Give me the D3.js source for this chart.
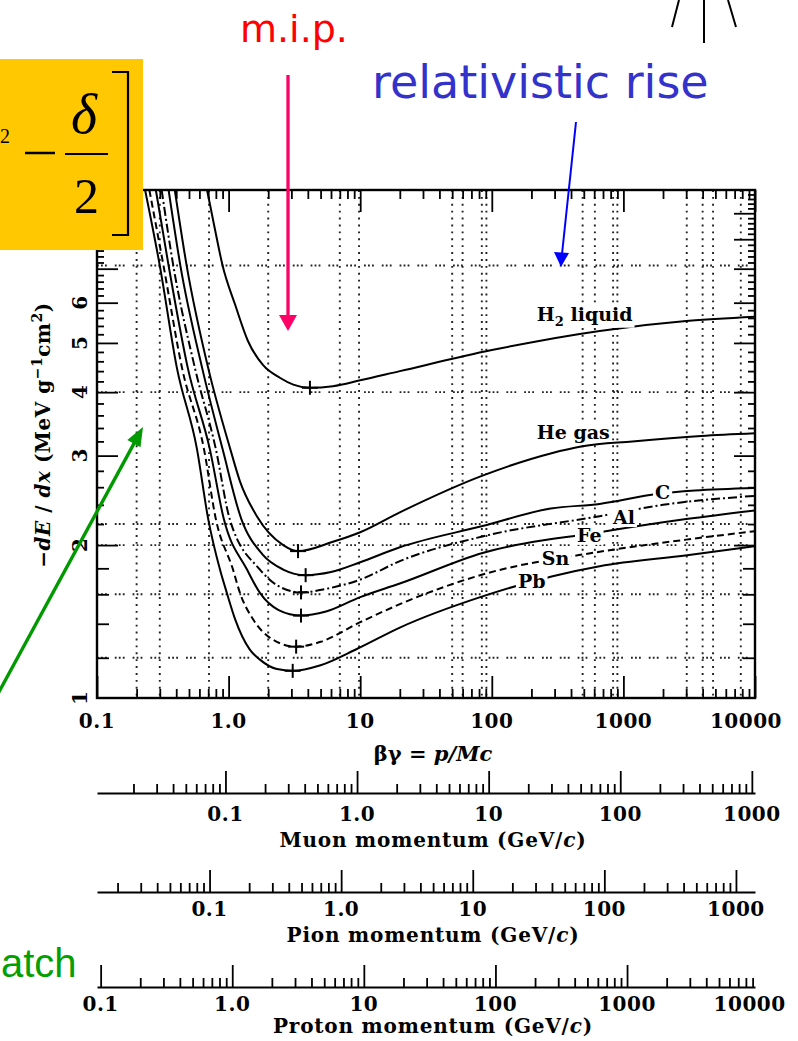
<!DOCTYPE html>
<html><head><meta charset="utf-8">
<script src="https://cdn.jsdelivr.net/npm/d3@7"></script>
<style>
body{margin:0;background:#fff;}
svg{display:block;}
text{font-family:"DejaVu Serif",serif;fill:#000;}
</style>
</head><body>
<svg id="chart" width="798" height="1041"></svg>
<script>
// ---------------- data (βγ, -dE/dx in MeV g^-1 cm^2) ----------------
const seriesNames = ["H2 liquid", "He gas", "C", "Al", "Fe", "Sn", "Pb"];
const h2Liquid = [[0.686,10],[0.8,8.2],[0.9,7.1],[1.12,5.95],[1.40,5.05],[1.83,4.52],[2.45,4.27],[3.1,4.14],[4.15,4.08],[6.2,4.11],[10,4.22],[20,4.40],[100,4.84],[660,5.28],[3000,5.52],[10000,5.63]];
const heGas = [[0.39,10],[0.48,7.1],[0.70,4.46],[1.03,3.09],[1.22,2.67],[1.64,2.28],[2.6,2.0],[3.37,1.946],[6.2,2.03],[10,2.12],[20,2.32],[85,2.74],[280,3.03],[490,3.13],[1170,3.2],[3900,3.28],[10000,3.32]];
const carbon = [[0.35,10],[0.43,7.1],[0.63,4.46],[0.9,3.09],[1.25,2.25],[1.8,1.92],[2.6,1.79],[3.85,1.745],[6,1.77],[10,1.85],[20,1.98],[85,2.18],[280,2.36],[660,2.41],[1800,2.52],[3500,2.56],[10000,2.59]];
const aluminium = [[0.31,10],[0.38,7.1],[0.555,4.46],[0.8,3.09],[1.02,2.25],[1.73,1.79],[2.4,1.66],[3.55,1.614],[5.5,1.64],[10,1.71],[20,1.86],[85,2.08],[660,2.28],[2000,2.40],[10000,2.50]];
const iron = [[0.28,10],[0.35,7.1],[0.49,4.46],[0.72,3.09],[0.92,2.25],[1.38,1.79],[1.73,1.61],[2.4,1.49],[3.55,1.453],[5.5,1.48],[10,1.58],[20,1.68],[85,1.93],[660,2.12],[3000,2.25],[10000,2.34]];
const tin = [[0.25,10],[0.32,7.1],[0.443,4.46],[0.65,3.09],[0.8,2.25],[1.08,1.79],[1.22,1.61],[1.53,1.43],[2.2,1.3],[3.26,1.262],[5,1.29],[10,1.41],[20,1.53],[85,1.75],[660,1.94],[3000,2.05],[10000,2.13]];
const lead = [[0.232,10],[0.30,7.1],[0.405,4.46],[0.575,3.09],[0.70,2.25],[0.86,1.79],[0.97,1.61],[1.12,1.43],[1.45,1.245],[1.73,1.19],[2.33,1.14],[3.07,1.131],[5,1.16],[9.5,1.25],[20,1.376],[85,1.585],[290,1.737],[660,1.817],[3050,1.91],[10000,1.99]];
const minima = [[4.15,4.08],[3.37,1.946],[3.85,1.745],[3.55,1.614],[3.55,1.453],[3.26,1.262],[3.07,1.131]];
const labelAnchors = [[220,5.53],[220,3.24],[1740,2.47],[834,2.20],[444,2.03],[240,1.83],[158,1.65]];

const xTickValues = [0.1, 1, 10, 100, 1000, 10000];
const xTickLabels = ["0.1", "1.0", "10", "100", "1000", "10000"];
const yTickValues = [1, 2, 3, 4, 5, 6];
const yTickLabels = ["1", "2", "3", "4", "5", "6"];
const gridY = [1.2, 1.6, 2.0, 2.2, 4, 7.1];
const gridX = [0.2, 0.3, 0.71, 2, 7, 9.8, 50, 60, 84, 91, 490, 607, 835, 900, 3030, 4000, 4800, 7800];

const particleNames = ["Muon", "Pion", "Proton"];
const particleMasses = [0.10566, 0.13957, 0.93827]; // GeV/c^2
const muonTickValues = [0.1, 1, 10, 100, 1000];
const muonTickLabels = ["0.1", "1.0", "10", "100", "1000"];
const pionTickValues = [0.1, 1, 10, 100, 1000];
const pionTickLabels = ["0.1", "1.0", "10", "100", "1000"];
const protonTickValues = [0.1, 1, 10, 100, 1000, 10000];
const protonTickLabels = ["0.1", "1.0", "10", "100", "1000", "10000"];

// ---------------- styles ----------------
const seriesData = [h2Liquid, heGas, carbon, aluminium, iron, tin, lead];
const seriesDash = [null, null, null, "9,3,2,3", null, "7,4", null];

const svg = d3.select("#chart");
const L = 97, R = 755, T = 190, B = 698;
const x = d3.scaleLog().domain([0.1, 10000]).range([L, R]);
const y = d3.scaleLog().domain([1, 10]).range([B, T]);

svg.append("defs").append("clipPath").attr("id", "clip")
  .append("rect").attr("x", L).attr("y", T).attr("width", R - L).attr("height", B - T);

// grid
const grid = svg.append("g").attr("clip-path", "url(#clip)");
grid.selectAll("line.gy").data(gridY).join("line").attr("class", "gy")
  .attr("x1", L).attr("x2", R).attr("y1", d => y(d)).attr("y2", d => y(d))
  .attr("stroke", "#222").attr("stroke-width", 1.9)
  .attr("stroke-dasharray", "1.8,2.2,1.8,2.2,1.8,8");
grid.selectAll("line.gx").data(gridX).join("line").attr("class", "gx")
  .attr("x1", d => x(d)).attr("x2", d => x(d)).attr("y1", T).attr("y2", B)
  .attr("stroke", "#222").attr("stroke-width", 1.9)
  .attr("stroke-dasharray", "1.9,5");

// curves
const line = d3.line().x(d => x(d[0])).y(d => y(d[1])).curve(d3.curveMonotoneX);
const curves = svg.append("g").attr("clip-path", "url(#clip)");
curves.selectAll("path").data(seriesData).join("path")
  .attr("d", line).attr("fill", "none").attr("stroke", "#000")
  .attr("stroke-width", 2)
  .attr("stroke-dasharray", (d, i) => seriesDash[i]);

// minimum markers
const mk = svg.append("g").attr("stroke", "#000").attr("stroke-width", 2);
minima.forEach(m => {
  mk.append("line").attr("x1", x(m[0])).attr("x2", x(m[0])).attr("y1", y(m[1]) - 7).attr("y2", y(m[1]) + 7);
  mk.append("line").attr("x1", x(m[0]) - 8).attr("x2", x(m[0]) + 8).attr("y1", y(m[1])).attr("y2", y(m[1]));
});

// curve labels with white background
const lab = svg.append("g");
seriesNames.forEach((name, i) => {
  const g = lab.append("g");
  const t = g.append("text").attr("x", x(labelAnchors[i][0])).attr("y", y(labelAnchors[i][1]))
    .attr("font-size", 19).attr("font-weight", "bold");
  if (name === "H2 liquid") {
    t.append("tspan").text("H");
    t.append("tspan").attr("font-size", 13).attr("dy", 5).text("2");
    t.append("tspan").attr("dy", -5).text(" liquid");
  } else {
    t.text(name);
  }
  const bb = t.node().getBBox();
  g.insert("rect", "text").attr("x", bb.x - 2).attr("y", bb.y + 1).attr("width", bb.width + 4)
    .attr("height", bb.height - 2).attr("fill", "#fff");
});

// axes ticks
function decadeMinors(lo, hi) {
  const out = [];
  for (let d = 1e-3; d <= 1e5; d *= 10) {
    for (let m = 2; m <= 9; m++) { const v = +(d * m).toPrecision(6); if (v > lo && v < hi) out.push(v); }
  }
  return out;
}
function decadeMajors(lo, hi) {
  const out = [];
  for (let d = 1e-3; d <= 1e5; d *= 10) { const v = +d.toPrecision(6); if (v >= lo * 0.999 && v <= hi * 1.001) out.push(v); }
  return out;
}
const xMinor = decadeMinors(0.1, 10000), xMajor = decadeMajors(0.1, 10000);
const yInts = [2, 3, 4, 5, 6, 7, 8, 9];
const ySmall = [1.2, 1.4, 1.6, 1.8];
const yMinor = d3.range(2.2, 9.9, 0.2).map(v => +v.toFixed(1)).filter(v => Math.abs(v - Math.round(v)) > 0.01);

function addAxis(axis, tr) {
  const g = svg.append("g").attr("transform", tr).call(axis);
  g.select(".domain").remove();
  g.selectAll("line").attr("stroke", "#000").attr("stroke-width", 1.8);
  return g;
}
addAxis(d3.axisBottom(x).tickValues(xMinor).tickSize(-9).tickFormat(""), `translate(0,${B})`);
addAxis(d3.axisBottom(x).tickValues(xMajor).tickSize(-22).tickFormat(""), `translate(0,${B})`);
addAxis(d3.axisTop(x).tickValues(xMinor).tickSize(-9).tickFormat(""), `translate(0,${T})`);
addAxis(d3.axisTop(x).tickValues(xMajor).tickSize(-22).tickFormat(""), `translate(0,${T})`);
[[yInts, 21], [ySmall, 12], [yMinor, 7]].forEach(([vals, len]) => {
  addAxis(d3.axisLeft(y).tickValues(vals).tickSize(-len).tickFormat(""), `translate(${L},0)`);
  addAxis(d3.axisRight(y).tickValues(vals).tickSize(-len).tickFormat(""), `translate(${R},0)`);
});

// frame
svg.append("rect").attr("x", L).attr("y", T).attr("width", R - L).attr("height", B - T)
  .attr("fill", "none").attr("stroke", "#000").attr("stroke-width", 2.4);

// x tick labels
svg.append("g").selectAll("text").data(xTickValues).join("text")
  .attr("x", d => x(d)).attr("y", 728).attr("dx", (d, i) => xTickLabels[i] === "10000" ? -9 : 0)
  .attr("text-anchor", "middle").attr("font-size", 20).attr("font-weight", "bold").attr("letter-spacing", 0.5)
  .text((d, i) => xTickLabels[i]);

// y tick labels (rotated)
svg.append("g").selectAll("text").data(yTickValues).join("text")
  .attr("transform", d => `translate(80,${y(d)}) rotate(-90)`)
  .attr("text-anchor", "middle").attr("dy", "0.36em").attr("font-size", 20).attr("font-weight", "bold")
  .text((d, i) => yTickLabels[i]);

// axis titles
const xt = svg.append("text").attr("x", 433).attr("y", 761).attr("text-anchor", "middle").attr("font-size", 21).attr("font-weight", "bold");
xt.append("tspan").text("βγ = ");
xt.append("tspan").attr("font-style", "italic").text("p/Mc");

const yt = svg.append("text").attr("transform", "translate(50,435) rotate(-90)")
  .attr("text-anchor", "middle").attr("font-size", 20).attr("font-weight", "bold").attr("letter-spacing", 0.5);
yt.append("tspan").text("−");
yt.append("tspan").attr("font-style", "italic").text("dE");
yt.append("tspan").text(" / ");
yt.append("tspan").attr("font-style", "italic").text("dx");
yt.append("tspan").text(" (MeV g");
yt.append("tspan").attr("font-size", 14).attr("dy", -8).text("−1");
yt.append("tspan").attr("dy", 8).text("cm");
yt.append("tspan").attr("font-size", 14).attr("dy", -8).text("2");
yt.append("tspan").attr("dy", 8).text(")");

// momentum axes
const momAxes = [
  {mass: particleMasses[0], yl: 793, vals: muonTickValues, labs: muonTickLabels, lb: 821, tb: 847, name: particleNames[0]},
  {mass: particleMasses[1], yl: 892, vals: pionTickValues, labs: pionTickLabels, lb: 916, tb: 942, name: particleNames[1]},
  {mass: particleMasses[2], yl: 987, vals: protonTickValues, labs: protonTickLabels, lb: 1011, tb: 1033, name: particleNames[2]}
];
momAxes.forEach(a => {
  const s = d3.scaleLog().domain([0.1 * a.mass, 10000 * a.mass]).range([L, R]);
  const [lo, hi] = s.domain();
  const g1 = svg.append("g").attr("transform", `translate(0,${a.yl})`)
    .call(d3.axisBottom(s).tickValues(decadeMinors(lo, hi)).tickSize(-9).tickSizeOuter(0).tickFormat(""));
  g1.select(".domain").attr("stroke", "#000").attr("stroke-width", 2.2);
  g1.selectAll("line").attr("stroke", "#000").attr("stroke-width", 1.8);
  const g2 = svg.append("g").attr("transform", `translate(0,${a.yl})`)
    .call(d3.axisBottom(s).tickValues(decadeMajors(lo, hi)).tickSize(-22).tickFormat(""));
  g2.select(".domain").remove();
  g2.selectAll("line").attr("stroke", "#000").attr("stroke-width", 1.8);
  svg.append("g").selectAll("text").data(a.vals).join("text")
    .attr("x", d => s(d)).attr("y", a.lb).attr("dx", (d, i) => a.labs[i] === "10000" ? -9 : 0)
    .attr("text-anchor", "middle").attr("font-size", 20).attr("font-weight", "bold").attr("letter-spacing", 0.5)
    .text((d, i) => a.labs[i]);
  const t = svg.append("text").attr("x", 433).attr("y", a.tb).attr("text-anchor", "middle")
    .attr("font-size", 20).attr("font-weight", "bold").attr("letter-spacing", 0.8);
  t.append("tspan").text(a.name + " momentum (GeV/");
  t.append("tspan").attr("font-style", "italic").text("c");
  t.append("tspan").text(")");
});

// ---------------- slide annotations ----------------
const ann = svg.append("g");
// yellow formula box
ann.append("rect").attr("x", 0).attr("y", 59).attr("width", 143).attr("height", 191).attr("fill", "#ffc800");
ann.append("text").attr("x", 0).attr("y", 143).style("font-family", "Liberation Serif").attr("font-size", 20).text("2");
ann.append("line").attr("x1", 25).attr("x2", 55).attr("y1", 153).attr("y2", 153).attr("stroke", "#000").attr("stroke-width", 2.5);
ann.append("text").attr("x", 71).attr("y", 133).style("font-family", "Liberation Serif").attr("font-style", "italic").attr("font-size", 56).text("δ");
ann.append("line").attr("x1", 65).attr("x2", 108).attr("y1", 154).attr("y2", 154).attr("stroke", "#000").attr("stroke-width", 2.2);
ann.append("text").attr("x", 74).attr("y", 213).style("font-family", "Liberation Serif").attr("font-size", 50).text("2");
ann.append("path").attr("d", "M112,72H128V235H112").attr("fill", "none").attr("stroke", "#000").attr("stroke-width", 2.2);

// m.i.p.
ann.append("text").attr("x", 240).attr("y", 42).style("font-family", "DejaVu Sans").attr("font-size", 38)
  .style("fill", "#ff0000").text("m.i.p.");
ann.append("line").attr("x1", 288).attr("x2", 288).attr("y1", 75).attr("y2", 318).attr("stroke", "#ff0066").attr("stroke-width", 3.3);
ann.append("path").attr("d", "M279,315L297,315L288,331Z").attr("fill", "#ff0066");

// relativistic rise
ann.append("text").attr("x", 372).attr("y", 98).style("font-family", "DejaVu Sans").attr("font-size", 46)
  .style("fill", "#3333cc").text("relativistic rise");
ann.append("line").attr("x1", 576).attr("x2", 562).attr("y1", 122).attr("y2", 254).attr("stroke", "#0000ff").attr("stroke-width", 2);
ann.append("path").attr("d", "M554,252L569,253L561,267Z").attr("fill", "#0000ff");

// green arrow
(function () {
  const x0 = -6, y0 = 701, x1 = 143, y1 = 427;
  const dx = x1 - x0, dy = y1 - y0, len = Math.hypot(dx, dy), ux = dx / len, uy = dy / len;
  const hl = 19, hw = 7.5;
  const bx = x1 - ux * hl, by = y1 - uy * hl;
  ann.append("line").attr("x1", x0).attr("y1", y0).attr("x2", bx + ux * 2).attr("y2", by + uy * 2)
    .attr("stroke", "#009900").attr("stroke-width", 3.4);
  ann.append("path").attr("d", `M${x1},${y1}L${bx - uy * hw},${by + ux * hw}L${bx + uy * hw},${by - ux * hw}Z`).attr("fill", "#009900");
})();
ann.append("text").attr("x", 1).attr("y", 977).style("font-family", "Liberation Sans").attr("font-size", 40)
  .style("fill", "#00a000").text("atch");

// black strokes at top right
ann.append("path").attr("d", "M672,27L679,0M704,0V43M728,0L736,27").attr("stroke", "#000").attr("stroke-width", 2).attr("fill", "none");
</script>
</body></html>
